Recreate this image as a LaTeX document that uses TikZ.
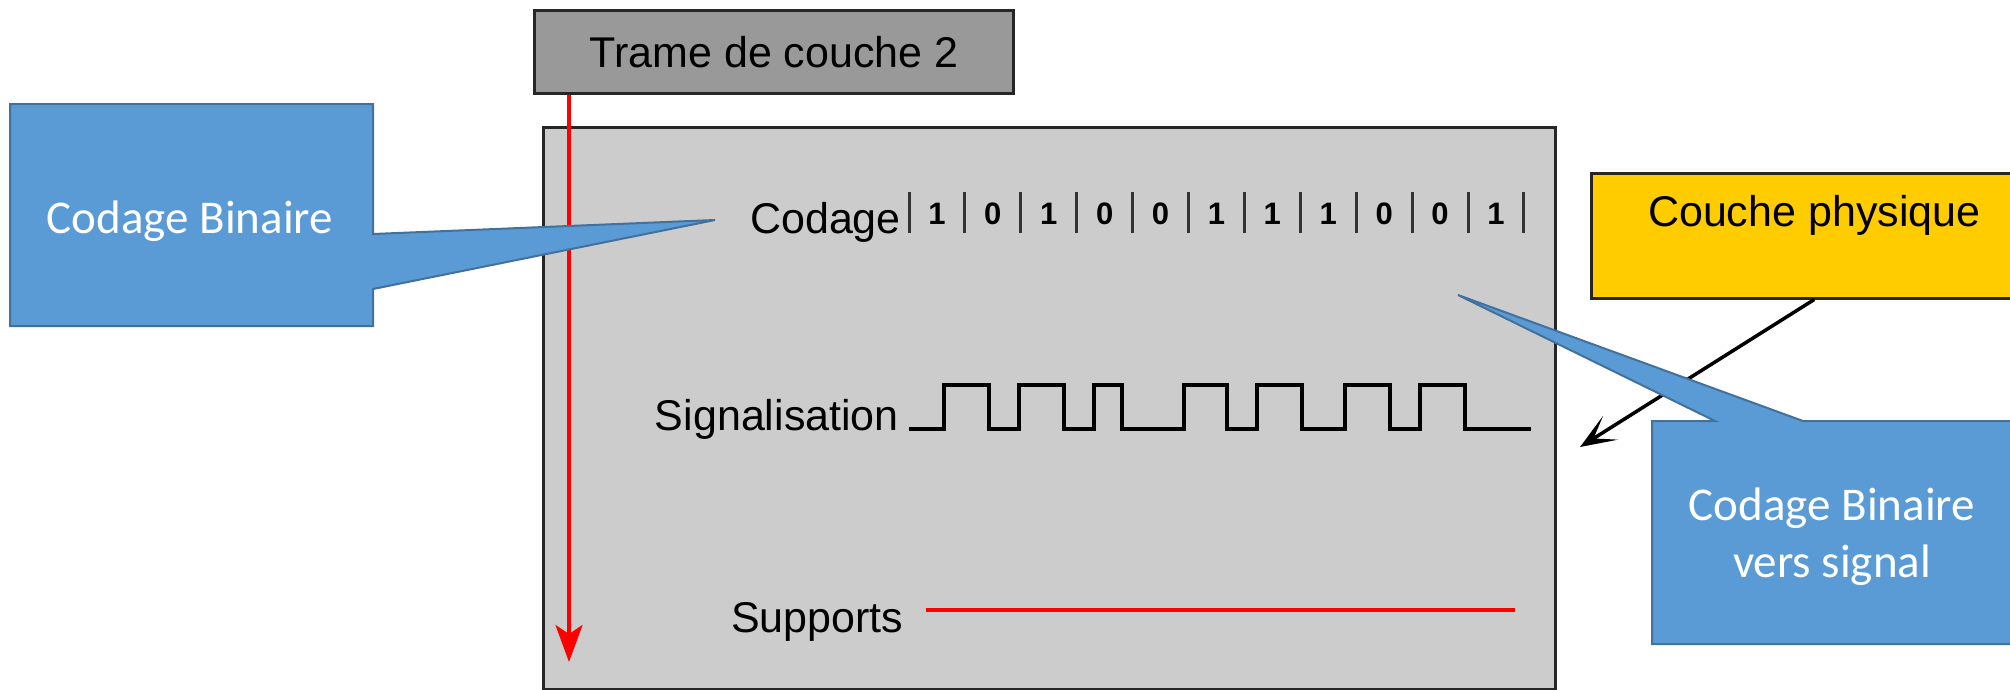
\documentclass[tikz,border=0pt]{standalone}
\usepackage{fontspec}
\setmainfont{Liberation Sans}
\newfontfamily\notefont{Carlito}
\usepackage{tikz}
\usetikzlibrary{arrows.meta, positioning}
\definecolor{layergray}{HTML}{CCCCCC}
\definecolor{framegray}{HTML}{999999}
\definecolor{physyellow}{HTML}{FFCC00}
\definecolor{noteblue}{HTML}{5B9BD5}
\definecolor{noteedge}{HTML}{41719C}
\tikzstyle{block} = [rectangle, draw=black!85, line width=3pt, inner sep=0pt]
\tikzstyle{layerbox} = [block, fill=layergray]
\tikzstyle{framebox} = [block, fill=framegray, font=\fontsize{43}{52}\selectfont]
\tikzstyle{physbox} = [block, fill=physyellow, line width=2.5pt]
\tikzstyle{layertext} = [inner sep=0pt, font=\fontsize{43}{52}\selectfont]
\tikzstyle{bit} = [inner sep=0pt, font=\bfseries\fontsize{31}{36}\selectfont]
\tikzstyle{tick} = [line width=3pt, black!80]
\tikzstyle{wave} = [line width=4.5pt, line join=miter]
\tikzstyle{wire} = [line width=4.5pt, red]
\tikzstyle{descent} = [line width=3.5pt, red, -{Stealth[length=37pt, width=27pt, inset=9pt]}]
\tikzstyle{pointer} = [line width=3.5pt, -{Stealth[length=36pt, width=28pt, inset=20pt]}]
\tikzstyle{note} = [fill=noteblue, draw=noteedge, line width=2pt, line join=miter]
\tikzstyle{notetext} = [inner sep=0pt, text=white, align=center, font=\notefont\fontsize{47}{57}\selectfont]

\begin{document}
\begin{tikzpicture}[x=1pt, y=-1pt]
    \useasboundingbox [fill=white] (0,0) rectangle (2010,689);

    % Boxes.
    \node (frame) [framebox, anchor=north west, minimum width=479pt, minimum height=83pt] at (533,9) {Trame de couche 2};
    \node (layer) [layerbox, anchor=north west, minimum width=1012pt, minimum height=562pt] at (542,126) {};
    \node (phys) [physbox, anchor=north west, minimum width=446pt, minimum height=125pt] at (1590,172) {};
    \node (physname) [layertext, below=23.5pt of phys.north] {Couche physique};

    % Rows.
    \node (codage) [layertext, anchor=base east] at (901,233) {Codage};
    \node (signal) [layertext, anchor=base east] at (899,430) {Signalisation};
    \node (supports) [layertext, anchor=base west] at (731,632) {Supports};

    % Bits.
    \foreach \b [count=\i from 0] in {1,0,1,0,0,1,1,1,0,0,1} {
        \node (bit\i) [bit] at ({909+55.9*(\i+0.5)},214) {\b};
    }
    \foreach \i in {0,...,11} {
        \draw [tick] ({909+55.9*\i},192) -- ++(0,41);
    }

    % Signal and medium.
    \draw [wave] (909,429) -| (944,385) -| (989,429) -| (1019,385) -| (1064,429)
        -| (1094,385) -| (1122,429) -| (1184,385) -| (1227,429) -| (1257,385)
        -| (1302,429) -| (1345,385) -| (1390,429) -| (1420,385) -| (1465,429) -- (1531,429);
    \coordinate (wirestart) at (926,610);
    \coordinate (wireend) at (1515,610);
    \draw [wire] (wirestart) -- (wireend);

    % Arrows.
    \coordinate (bottom) at (569,662);
    \draw [descent] (frame.south -| bottom) -- (bottom);
    \coordinate (target) at (1580,447);
    \draw [pointer] (phys.south) -- (target);

    % Notes.
    \draw [note] (10,104) -- (373,104) -- (373,234) -- (715,220) -- (373,289) -- (373,326) -- (10,326) -- cycle;
    \node (codenote) [notetext] at (190,221) {Codage Binaire};
    \draw [note] (1652,421) -- (1715,421) -- (1458,295) -- (1803,421) -- (2016,421) -- (2016,644) -- (1652,644) -- cycle;
    \node (signalnote) [notetext] at (1832,537) {Codage Binaire\\vers signal};
\end{tikzpicture}
\end{document}
